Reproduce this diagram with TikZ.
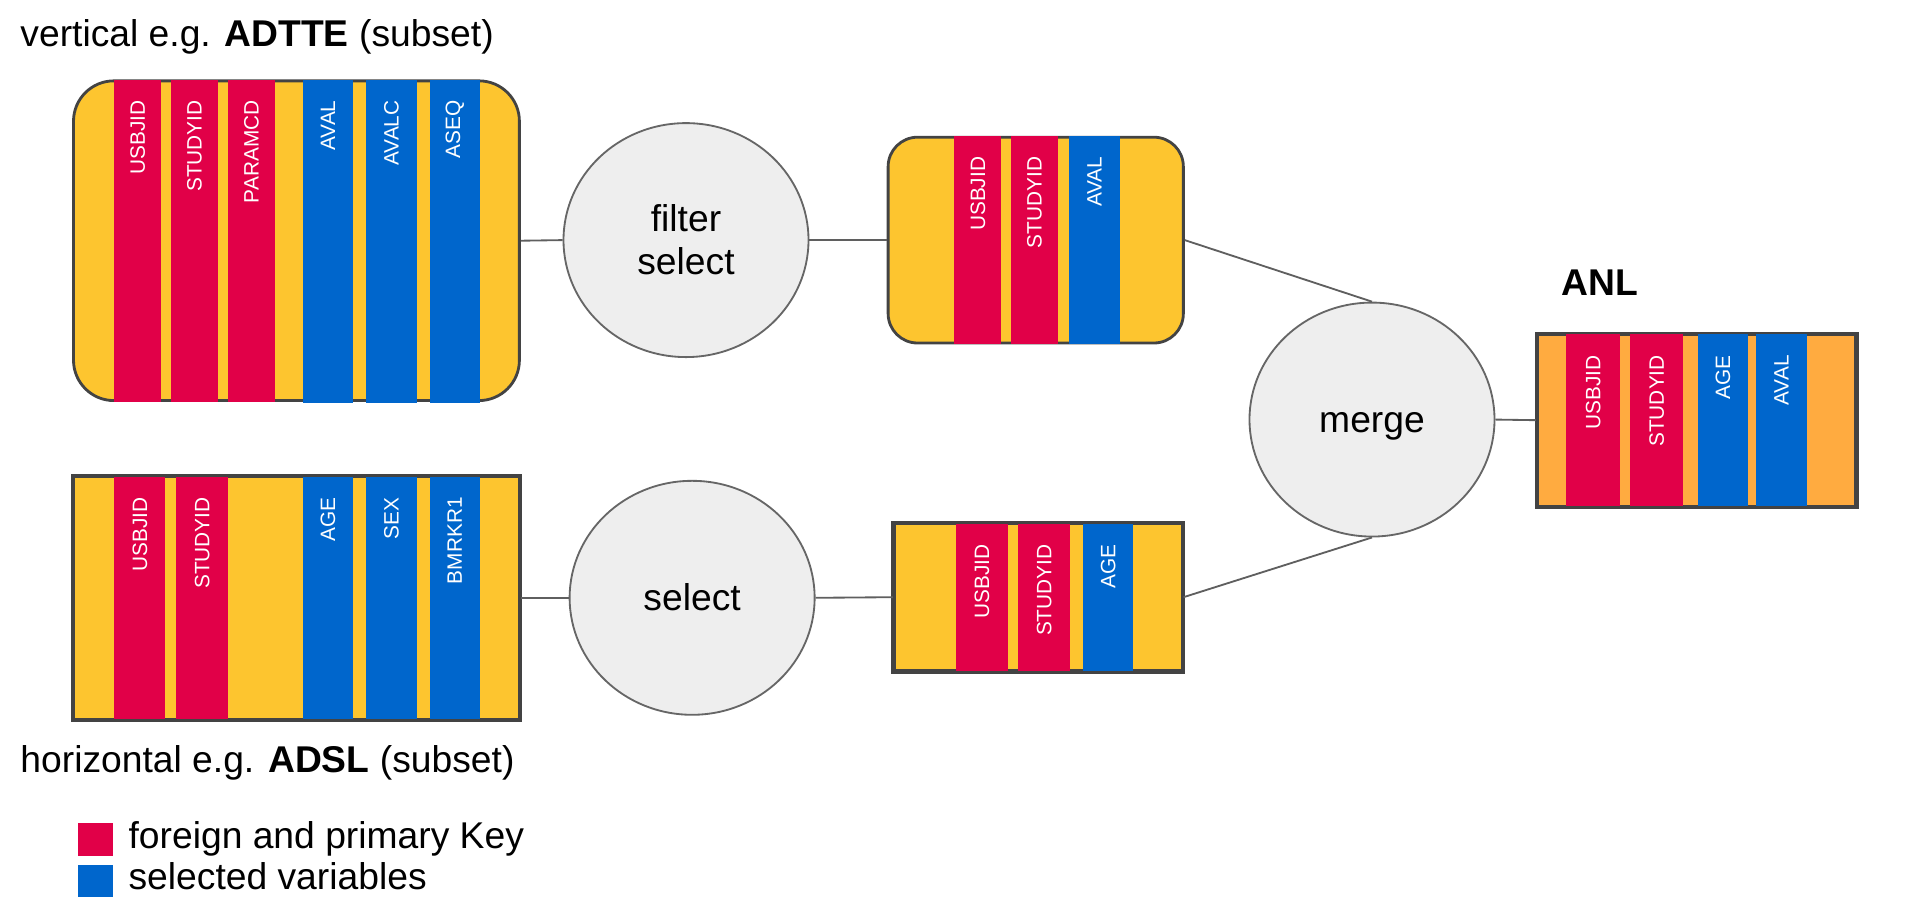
\documentclass[tikz,border=0pt]{standalone}
\usepackage{fontspec}
\setmainfont{Liberation Sans}
\usetikzlibrary{shapes.geometric,calc}
\definecolor{cy}{RGB}{253,197,47}
\definecolor{cr}{RGB}{225,0,72}
\definecolor{cb}{RGB}{0,102,204}
\definecolor{co}{RGB}{255,171,64}
\definecolor{cg}{RGB}{238,238,238}
\definecolor{cbd}{RGB}{67,67,67}
\definecolor{cln}{RGB}{95,95,95}
\definecolor{ccirc}{RGB}{102,102,102}
% #1 name, #2 x1, #3 x2, #4 ytop, #5 ybot, #6 colour, #7 label
\newcommand\stripe[7]{%
  \fill[#6] (#2,#4) rectangle (#3,#5);
  \node[vlab] (#1) at ({(#2+#3)/2},{#4+17}) {#7};
}
\tikzset{
  vlab/.style={rotate=90, anchor=east, inner sep=0pt, outer sep=0pt, text=white,
    font=\fontsize{17}{20}\selectfont},
  bigtxt/.style={inner sep=0pt, outer sep=0pt, font=\fontsize{30.4}{36}\selectfont},
  proc/.style={ellipse, draw=ccirc, fill=cg, line width=1.5pt, inner sep=0pt,
    minimum width=200pt, minimum height=191pt},
  tbox/.style={rectangle, draw=cbd, line width=2.3pt, inner sep=0pt},
  bord/.style={draw=cbd, line width=2.3pt},
  conn/.style={draw=cln, line width=1.5pt},
  sq/.style={rectangle, inner sep=0pt, minimum width=28.7pt, minimum height=26.5pt},
}
\begin{document}
\begin{tikzpicture}[x=1pt, y=-1pt]
\useasboundingbox (0,0) rectangle (1560,752.6);

% titles
\node[bigtxt, anchor=base west] (t1) at (16.7,38) {vertical e.g. \textbf{ADTTE} (subset)};
\node[bigtxt, anchor=base west] (t2) at (16.7,631) {horizontal e.g. \textbf{ADSL} (subset)};
\node[bigtxt, anchor=base west] (t3) at (1274.5,241) {\textbf{ANL}};

% ADTTE (rounded)
\node[tbox, fill=cy, rounded corners=33pt, minimum width=364pt, minimum height=261pt] (adtte) at (242,196.5) {};
\stripe{a1}{93.3}{131.7}{65}{328}{cr}{USBJID}
\stripe{a2}{139.3}{178.3}{65}{328}{cr}{STUDYID}
\stripe{a3}{186}{224.7}{65}{328}{cr}{PARAMCD}
\stripe{a4}{247.3}{288}{65}{329}{cb}{AVAL}
\stripe{a5}{299}{340}{65}{329}{cb}{AVALC}
\stripe{a6}{350.7}{391.7}{65}{329}{cb}{ASEQ}

% ADSL (rectangle)
\node[tbox, fill=cy, minimum width=364pt, minimum height=198pt] (adsl) at (242,488) {};
\stripe{b1}{93.3}{135}{389}{587}{cr}{USBJID}
\stripe{b2}{144}{186}{389}{587}{cr}{STUDYID}
\stripe{b3}{247.3}{288}{389}{587}{cb}{AGE}
\stripe{b4}{299}{340}{389}{587}{cb}{SEX}
\stripe{b5}{350.7}{391.7}{389}{587}{cb}{BMRKR1}
\draw[bord] (adsl.north west) rectangle (adsl.south east);

% filtered ADTTE (rounded)
\node[tbox, fill=cy, rounded corners=24pt, minimum width=241pt, minimum height=168pt] (filtd) at (845.5,196) {};
\stripe{c1}{779}{817.5}{111}{281}{cr}{USBJID}
\stripe{c2}{825}{864}{111}{281}{cr}{STUDYID}
\stripe{c3}{873}{914}{111}{281}{cb}{AVAL}

% selected ADSL (rectangle)
\node[tbox, fill=cy, minimum width=235pt, minimum height=120pt] (seld) at (847.5,487.5) {};
\stripe{d1}{780.3}{823}{427.5}{547.5}{cr}{USBJID}
\stripe{d2}{831}{873.6}{427.5}{547.5}{cr}{STUDYID}
\stripe{d3}{884.2}{925}{427.5}{547.5}{cb}{AGE}
\draw[bord] (seld.north west) rectangle (seld.south east);

% ANL (rectangle, orange)
\node[tbox, fill=co, minimum width=260pt, minimum height=140pt] (anl) at (1385,343) {};
\stripe{e1}{1278.6}{1322.4}{273}{413}{cr}{USBJID}
\stripe{e2}{1330.4}{1374.2}{273}{413}{cr}{STUDYID}
\stripe{e3}{1385.7}{1427.1}{273}{413}{cb}{AGE}
\stripe{e4}{1433.2}{1475.3}{273}{413}{cb}{AVAL}
\draw[bord] (anl.north west) rectangle (anl.south east);

% process circles
\node[proc] (filt) at (560,196) {};
\node[proc] (sel) at (565,488) {};
\node[proc] (merge) at (1120,342.5) {};
\node[bigtxt, anchor=base] (filtT1) at ($(filt.center)+(0,-7.2)$) {filter};
\node[bigtxt, anchor=base] (filtT2) at ($(filt.center)+(0,28.2)$) {select};
\node[bigtxt, anchor=base] (selT) at ($(sel.center)+(0,10.5)$) {select};
\node[bigtxt, anchor=base] (mergeT) at ($(merge.center)+(0,10.5)$) {merge};

% connectors
\draw[conn] (adtte.east) -- (filt.west);
\draw[conn] (filt.east) -- (filtd.west);
\draw[conn] (filtd.east) -- (merge.north);
\draw[conn] (adsl.east) -- (sel.west);
\draw[conn] (sel.east) -- (seld.west);
\draw[conn] (seld.east) -- (merge.south);
\draw[conn] (merge.east) -- (anl.west);

% legend
\node[sq, fill=cr] (lr) at (77.75,685.25) {};
\node[sq, fill=cb] (lb) at (77.75,719.25) {};
\node[bigtxt, anchor=base west] (lrT) at (105,693) {foreign and primary Key};
\node[bigtxt, anchor=base west] (lbT) at (105,726.5) {selected variables};
\end{tikzpicture}
\end{document}
